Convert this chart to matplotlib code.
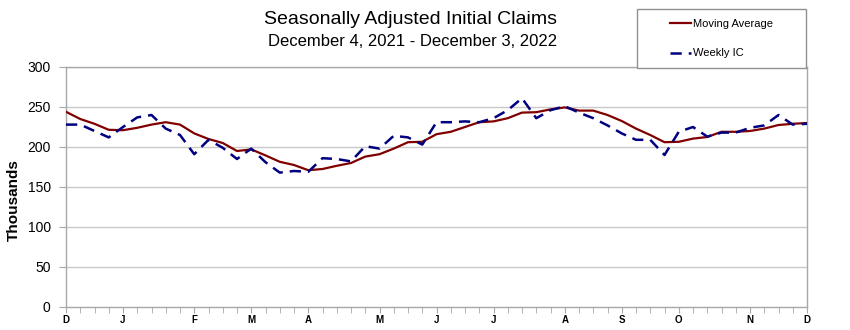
import matplotlib
matplotlib.use("Agg")
import matplotlib.pyplot as plt
from matplotlib.patches import Rectangle
import numpy as np

plt.rcParams['font.family'] = ['Liberation Sans', 'DejaVu Sans']

# Weeks ending Dec 4, 2021 ... Dec 3, 2022 (53 weekly points)
weeks = np.arange(53)
moving_average = [244, 235, 229, 221.5, 221, 224, 228, 231, 228, 217,
                  210, 205, 195, 197, 189.5, 181.5, 177.5, 171, 172.5, 176.5,
                  180, 188, 191, 198, 206, 206.5, 216, 219, 225, 231,
                  232, 236, 243, 243.5, 247, 249.5, 245.5, 245.5, 240, 232.5,
                  223, 215, 206, 206.5, 210.5, 212.5, 219, 219, 220, 223,
                  227.5, 229, 230]
weekly_ic = [228, 228, 220, 212, 225, 237, 240, 223, 215, 191,
             209, 199, 185, 198, 181, 168, 170, 169, 186, 185,
             182, 201, 198, 214, 212, 203, 231, 231, 232, 231,
             236, 246, 261, 236, 246, 251, 243, 236, 227, 217,
             209, 209, 190, 219, 225, 213, 218, 218, 224, 227,
             240, 228, 229]
month_weeks = [0, 4, 9, 13, 17, 22, 26, 30, 35, 39, 43, 48, 52]
month_labels = ['D', 'J', 'F', 'M', 'A', 'M', 'J', 'J', 'A', 'S', 'O', 'N', 'D']
y_ticks = [0, 50, 100, 150, 200, 250, 300]

W, H = 850, 330
fig = plt.figure(figsize=(W / 100, H / 100), dpi=100)
ax = fig.add_axes([66 / W, 1 - 307 / H, (807 - 66) / W, (307 - 67) / H])

grid_col = '#c9c9c9'
spine_col = '#a8a8a8'
for yv in y_ticks[1:]:
    ax.axhline(yv, color=grid_col, lw=1.0, zorder=1)

ax.plot(weeks, moving_average, color='#800000', lw=1.6, zorder=3,
        label='Moving Average')
ax.plot(weeks, weekly_ic, color='#000080', lw=1.8, dashes=(4.5, 2.8),
        zorder=4, label='Weekly IC')

ax.set_xlim(0, 52)
ax.set_ylim(0, 300)
ax.set_yticks(y_ticks)
ax.set_yticklabels([str(v) for v in y_ticks], fontsize=10)
ax.set_xticks(month_weeks)
ax.set_xticklabels(month_labels, fontsize=7, fontweight='bold')
ax.set_xticks(weeks, minor=True)
ax.tick_params(axis='x', which='both', direction='out', length=4,
               color=spine_col, pad=2)
ax.tick_params(axis='y', length=5, color=spine_col, pad=6)
for s in ax.spines.values():
    s.set_color(spine_col)
    s.set_linewidth(1.0)

fig.text(14 / W, 1 - 200 / H, 'Thousands', rotation=90, ha='center',
         va='center', fontsize=11, fontweight='bold')

fig.text(410 / W, 1 - 20 / H, 'Seasonally Adjusted Initial Claims',
         ha='center', va='center', fontsize=14)
fig.text(413 / W, 1 - 41 / H, 'December 4, 2021 - December 3, 2022',
         ha='center', va='center', fontsize=12)

# legend box
fig.patches.append(Rectangle((637 / W, 1 - 68 / H), (806 - 637) / W,
                             (68 - 9) / H, transform=fig.transFigure,
                             facecolor='white', edgecolor='#909090',
                             lw=1.0, zorder=5))
handles, labels = ax.get_legend_handles_labels()
leg = fig.legend(handles, labels, loc='upper left',
                 bbox_to_anchor=(670 / W, 1 - 19 / H), frameon=False,
                 fontsize=8, handlelength=1.9, handletextpad=0.15,
                 labelspacing=1.75, borderpad=0, borderaxespad=0)
leg.set_zorder(6)

fig.savefig('out.png', dpi=100, facecolor='white')
